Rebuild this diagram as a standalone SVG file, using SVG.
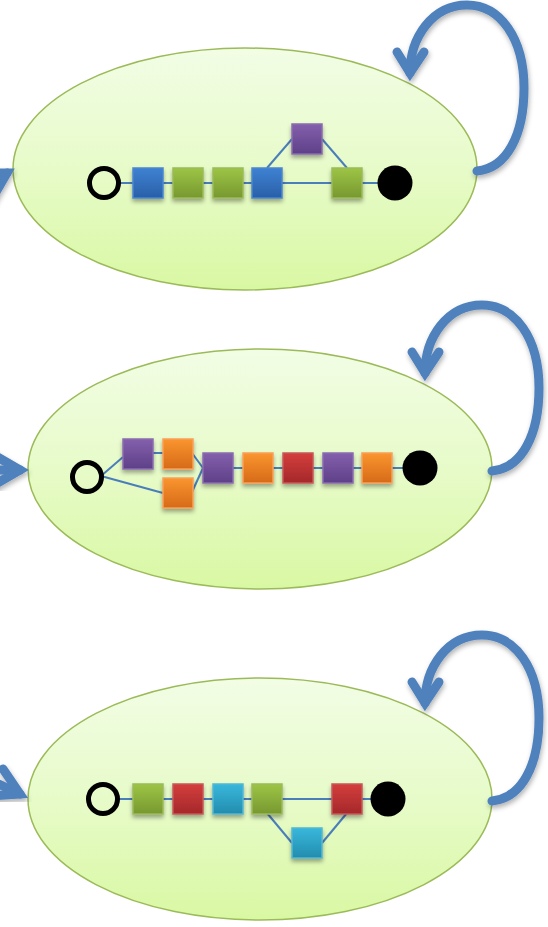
<svg xmlns="http://www.w3.org/2000/svg" width="548" height="927" viewBox="0 0 548 927">
  <defs>
    <linearGradient id="gEllipse" x1="0" y1="0" x2="0" y2="1">
      <stop offset="0" stop-color="#f2fde5"/>
      <stop offset="0.5" stop-color="#e7fbc9"/>
      <stop offset="1" stop-color="#d9f8a3"/>
    </linearGradient>
    <linearGradient id="gBlue" x1="0" y1="0" x2="0" y2="1">
      <stop offset="0" stop-color="#3e82d2"/>
      <stop offset="1" stop-color="#2a5fa8"/>
    </linearGradient>
    <linearGradient id="gGreen" x1="0" y1="0" x2="0" y2="1">
      <stop offset="0" stop-color="#9dc545"/>
      <stop offset="1" stop-color="#779830"/>
    </linearGradient>
    <linearGradient id="gPurple" x1="0" y1="0" x2="0" y2="1">
      <stop offset="0" stop-color="#8460ac"/>
      <stop offset="1" stop-color="#5e4088"/>
    </linearGradient>
    <linearGradient id="gOrange" x1="0" y1="0" x2="0" y2="1">
      <stop offset="0" stop-color="#fa952f"/>
      <stop offset="1" stop-color="#d66a18"/>
    </linearGradient>
    <linearGradient id="gRed" x1="0" y1="0" x2="0" y2="1">
      <stop offset="0" stop-color="#d43e3c"/>
      <stop offset="1" stop-color="#a4282a"/>
    </linearGradient>
    <linearGradient id="gCyan" x1="0" y1="0" x2="0" y2="1">
      <stop offset="0" stop-color="#38b8dc"/>
      <stop offset="1" stop-color="#238cad"/>
    </linearGradient>
    <filter id="shadow" x="-30%" y="-30%" width="160%" height="170%">
      <feDropShadow dx="0" dy="3" stdDeviation="2" flood-color="#000" flood-opacity="0.35"/>
    </filter>
    <filter id="ashadow" x="-20%" y="-20%" width="140%" height="140%">
      <feDropShadow dx="1" dy="3" stdDeviation="2.5" flood-color="#000" flood-opacity="0.3"/>
    </filter>
    <!-- self loop, drawn for the first state and reused for the others -->
    <g id="loop" class="arrow">
      <path d="M 477,171 C 507,168 524,135 524,88 C 524,38 500,5 467,5 C 432,5 410,38 410,73"/>
      <polyline points="397,52 410,73 424,52"/>
    </g>
  </defs>
  <style>
    .ell { fill: url(#gEllipse); stroke: #9bbb59; stroke-width: 1.5; }
    .sq { stroke-width: 1.5; filter: url(#shadow); }
    .blue { fill: url(#gBlue); stroke: #4a86d0; }
    .green { fill: url(#gGreen); stroke: #9bbb59; }
    .purple { fill: url(#gPurple); stroke: #8a6cb0; }
    .orange { fill: url(#gOrange); stroke: #f9a05a; }
    .red { fill: url(#gRed); stroke: #c8585a; }
    .cyan { fill: url(#gCyan); stroke: #52b8d4; }
    .link { stroke: #4a7ebb; stroke-width: 2; fill: none; }
    .start { fill: none; stroke: #000; stroke-width: 5; }
    .end { fill: #000; }
    .arrow { fill: none; stroke: #4f81bd; stroke-width: 9; stroke-linecap: round; stroke-linejoin: miter; filter: url(#ashadow); }
  </style>

  <!-- states -->
  <g id="state1"><ellipse class="ell" cx="245" cy="169" rx="232" ry="121"/></g>
  <g id="state2"><ellipse class="ell" cx="260" cy="469" rx="232" ry="120"/></g>
  <g id="state3"><ellipse class="ell" cx="260" cy="799" rx="232" ry="121"/></g>

  <!-- connectors -->
  <g id="connectors">
    <!-- incoming arrows from the left edge -->
    <g class="arrow">
      <path d="M -45,206 L 7,173"/>
      <polyline points="-20,173 7,173 -8,199"/>
    </g>
    <g class="arrow">
      <path d="M -45,470 L 20,470"/>
      <polyline points="-6,455 20,470 -6,485"/>
    </g>
    <g class="arrow">
      <path d="M -40,766 L 20,794"/>
      <polyline points="-10,796 20,794 3,769"/>
    </g>
    <!-- self loops -->
    <use href="#loop"/>
    <use href="#loop" transform="translate(15,300)"/>
    <use href="#loop" transform="translate(15,630)"/>

    <!-- state 1 sequence -->
    <line class="link" x1="119" y1="183" x2="134" y2="183"/>
    <line class="link" x1="163" y1="183" x2="173" y2="183"/>
    <line class="link" x1="203" y1="183" x2="213" y2="183"/>
    <line class="link" x1="243" y1="183" x2="252" y2="183"/>
    <line class="link" x1="282" y1="183" x2="332" y2="183"/>
    <line class="link" x1="362" y1="183" x2="380" y2="183"/>
    <line class="link" x1="267" y1="168" x2="292" y2="139"/>
    <line class="link" x1="322" y1="139" x2="347" y2="168"/>

    <!-- state 2 sequence -->
    <line class="link" x1="101" y1="476" x2="123" y2="457"/>
    <line class="link" x1="101" y1="476" x2="163" y2="493"/>
    <line class="link" x1="153" y1="453" x2="163" y2="453"/>
    <line class="link" x1="192" y1="453" x2="203" y2="468"/>
    <line class="link" x1="192" y1="492" x2="203" y2="468"/>
    <line class="link" x1="233" y1="468" x2="243" y2="468"/>
    <line class="link" x1="273" y1="468" x2="283" y2="468"/>
    <line class="link" x1="313" y1="468" x2="323" y2="468"/>
    <line class="link" x1="353" y1="468" x2="362" y2="468"/>
    <line class="link" x1="392" y1="468" x2="405" y2="468"/>

    <!-- state 3 sequence -->
    <line class="link" x1="118" y1="799" x2="133" y2="799"/>
    <line class="link" x1="163" y1="799" x2="173" y2="799"/>
    <line class="link" x1="203" y1="799" x2="213" y2="799"/>
    <line class="link" x1="243" y1="799" x2="252" y2="799"/>
    <line class="link" x1="282" y1="799" x2="332" y2="799"/>
    <line class="link" x1="362" y1="799" x2="374" y2="799"/>
    <line class="link" x1="267" y1="813" x2="292" y2="843"/>
    <line class="link" x1="347" y1="813" x2="322" y2="843"/>
  </g>

  <!-- state 1 contents -->
  <g id="s1-start"><circle class="start" cx="104" cy="183" r="14.5"/></g>
  <g id="s1-n1"><rect class="sq blue" x="133" y="168" width="30" height="30"/></g>
  <g id="s1-n2"><rect class="sq green" x="173" y="168" width="30" height="30"/></g>
  <g id="s1-n3"><rect class="sq green" x="213" y="168" width="30" height="30"/></g>
  <g id="s1-n4"><rect class="sq blue" x="252" y="168" width="30" height="30"/></g>
  <g id="s1-n5"><rect class="sq purple" x="292" y="124" width="30" height="30"/></g>
  <g id="s1-n6"><rect class="sq green" x="332" y="168" width="30" height="30"/></g>
  <g id="s1-end"><circle class="end" cx="395" cy="183" r="17.5"/></g>

  <!-- state 2 contents -->
  <g id="s2-start"><circle class="start" cx="87" cy="477" r="14.5"/></g>
  <g id="s2-n1"><rect class="sq purple" x="123" y="439" width="30" height="30"/></g>
  <g id="s2-n2"><rect class="sq orange" x="163" y="439" width="30" height="30"/></g>
  <g id="s2-n3"><rect class="sq orange" x="163" y="478" width="30" height="30"/></g>
  <g id="s2-n4"><rect class="sq purple" x="203" y="453" width="30" height="30"/></g>
  <g id="s2-n5"><rect class="sq orange" x="243" y="453" width="30" height="30"/></g>
  <g id="s2-n6"><rect class="sq red" x="283" y="453" width="30" height="30"/></g>
  <g id="s2-n7"><rect class="sq purple" x="323" y="453" width="30" height="30"/></g>
  <g id="s2-n8"><rect class="sq orange" x="362" y="453" width="30" height="30"/></g>
  <g id="s2-end"><circle class="end" cx="420" cy="468" r="17.5"/></g>

  <!-- state 3 contents -->
  <g id="s3-start"><circle class="start" cx="103" cy="799" r="14.5"/></g>
  <g id="s3-n1"><rect class="sq green" x="133" y="784" width="30" height="30"/></g>
  <g id="s3-n2"><rect class="sq red" x="173" y="784" width="30" height="30"/></g>
  <g id="s3-n3"><rect class="sq cyan" x="213" y="784" width="30" height="30"/></g>
  <g id="s3-n4"><rect class="sq green" x="252" y="784" width="30" height="30"/></g>
  <g id="s3-n5"><rect class="sq red" x="332" y="784" width="30" height="30"/></g>
  <g id="s3-n6"><rect class="sq cyan" x="292" y="828" width="30" height="30"/></g>
  <g id="s3-end"><circle class="end" cx="388" cy="799" r="17.5"/></g>
</svg>
